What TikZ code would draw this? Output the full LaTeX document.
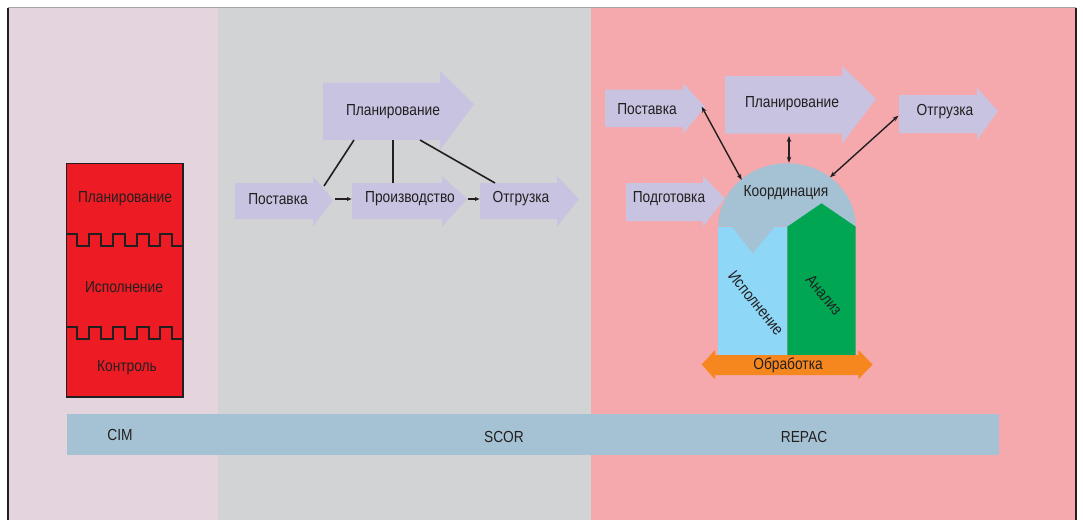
\documentclass[tikz,border=0pt]{standalone}
\usepackage{fontspec}
\setmainfont{Liberation Sans}[FakeStretch=0.86]
\usetikzlibrary{arrows.meta}
\definecolor{cimbg}{HTML}{E3D4DD}
\definecolor{scorbg}{HTML}{D2D3D5}
\definecolor{repacbg}{HTML}{F5A9AD}
\definecolor{barblue}{HTML}{A4C2D3}
\definecolor{lav}{HTML}{C8C3E1}
\definecolor{redbox}{HTML}{ED1C24}
\definecolor{lblue}{HTML}{8ED7F7}
\definecolor{grn}{HTML}{00A651}
\definecolor{orng}{HTML}{F6871F}
\definecolor{ink}{HTML}{231F20}
\tikzset{
  lbl/.style={font=\fontsize{16}{18}\selectfont, text=ink, inner sep=0pt},
  arrowshape/.style={fill=lav},
  wire/.style={draw=ink, line width=1.6pt},
  flow/.style={draw=ink, line width=1.6pt, -{Latex[length=5pt,width=4.5pt]}},
  link/.style={draw=ink, line width=1.4pt, {Stealth[length=6pt,width=4.5pt]}-{Stealth[length=6pt,width=4.5pt]}},
  wave/.style={draw=ink, line width=1.5pt},
}
\begin{document}
\begin{tikzpicture}[x=1pt,y=-1pt]
\useasboundingbox (0,0) rectangle (1083,520);
% backgrounds
\fill[white] (0,0) rectangle (1083,520);
\fill[cimbg] (8,7.5) rectangle (218,520);
\fill[scorbg] (218,7.5) rectangle (591,520);
\fill[repacbg] (591,7.5) rectangle (1076,520);
\draw[gray!70, line width=1pt] (8,7.5) -- (1076,7.5);
\draw[ink, line width=1.5pt] (8,7.5) -- (8,520);
\draw[ink, line width=1.5pt] (1076,7.5) -- (1076,520);
% bottom bar
\fill[barblue] (67,414) rectangle (999,455);
\node[lbl] (cim) at (120,435) {CIM};
\node[lbl] (scor) at (504,437) {SCOR};
\node[lbl] (repac) at (804,437) {REPAC};
% CIM red box
\draw[fill=redbox, draw=ink, line width=1.6pt] (66.5,163.5) rectangle (183,397);
\draw[wave] (66.5,234) -- (77,234) -- (77,246) -- (89,246) -- (89,234) -- (101,234) -- (101,246) -- (113,246) -- (113,234) -- (125,234) -- (125,246) -- (137,246) -- (137,234) -- (149,234) -- (149,246) -- (160,246) -- (160,234) -- (172,234) -- (172,246) -- (183,246);
\draw[wave] (66.5,327) -- (77,327) -- (77,339) -- (89,339) -- (89,327) -- (101,327) -- (101,339) -- (113,339) -- (113,327) -- (125,327) -- (125,339) -- (137,339) -- (137,327) -- (149,327) -- (149,339) -- (160,339) -- (160,327) -- (172,327) -- (172,339) -- (183,339);
\node[lbl] (cimplan) at (125,199) {Планирование};
\node[lbl] (cimexec) at (124,287) {Исполнение};
\node[lbl] (cimctrl) at (127,368) {Контроль};
% SCOR arrows
\fill[arrowshape] (323,82.5) -- (440,82.5) -- (440,71) -- (474,104) -- (440,150) -- (440,140) -- (323,140) -- cycle;
\node[lbl] (splan) at (393,112) {Планирование};
\fill[arrowshape] (235,183) -- (313,183) -- (313,176) -- (333,200) -- (313,226.5) -- (313,219) -- (235,219) -- cycle;
\node[lbl] (ssup) at (278,199) {Поставка};
\fill[arrowshape] (352,183) -- (442,183) -- (442,176) -- (467,199) -- (442,226.5) -- (442,219) -- (352,219) -- cycle;
\node[lbl] (sprod) at (410,199) {Производство};
\fill[arrowshape] (480,183) -- (557,183) -- (557,176) -- (579,199) -- (557,226.5) -- (557,219) -- (480,219) -- cycle;
\node[lbl] (sship) at (521,199) {Отгрузка};
\coordinate (splanA) at (354,140);
\coordinate (splanB) at (393,140);
\coordinate (splanC) at (420,140);
\coordinate (ssupT) at (324,186);
\coordinate (sprodT) at (393,183);
\coordinate (sshipT) at (495,183);
\coordinate (ssupR) at (335,199);
\coordinate (sprodL) at (352,199);
\coordinate (sprodR) at (468,199);
\coordinate (sshipL) at (480,199);
\draw[wire] (splanA) -- (ssupT);
\draw[wire] (splanB) -- (sprodT);
\draw[wire] (splanC) -- (sshipT);
\draw[flow] (ssupR) -- (sprodL);
\draw[flow] (sprodR) -- (sshipL);
% REPAC arrows
\fill[arrowshape] (605,89.5) -- (683,89.5) -- (683,83) -- (705,107) -- (683,133.5) -- (683,127) -- (605,127) -- cycle;
\node[lbl] (rsup) at (647,109) {Поставка};
\fill[arrowshape] (725,76) -- (842,76) -- (842,66) -- (876,99) -- (842,143.5) -- (842,133.5) -- (725,133.5) -- cycle;
\node[lbl] (rplan) at (792,103.5) {Планирование};
\fill[arrowshape] (899,95) -- (977,95) -- (977,88) -- (998,111) -- (977,140) -- (977,133) -- (899,133) -- cycle;
\node[lbl] (rship) at (945,112) {Отгрузка};
\fill[arrowshape] (626,183) -- (703,183) -- (703,176) -- (725,198.5) -- (703,226.5) -- (703,221) -- (626,221) -- cycle;
\node[lbl] (rprep) at (669,199) {Подготовка};
% dome and columns
\fill[barblue] (718.3,226.7) arc[start angle=180, end angle=360, x radius=68.7, y radius=63.4] -- cycle;
\fill[lblue] (718.3,226.7) rectangle (787.3,355);
\fill[barblue] (731.7,226.2) -- (752.7,253.3) -- (775,226.2) -- cycle;
\fill[grn] (787.3,355) -- (787.3,226.7) -- (821.5,203.3) -- (855.7,226.7) -- (855.7,355) -- cycle;
\node[lbl] (rcoord) at (786,193) {Координация};
\node[lbl, rotate=-51] (rexec) at (756,303) {Исполнение};
\node[lbl, rotate=-50] (ranal) at (824,295) {Анализ};
\fill[orng] (701.7,364.5) -- (715,350) -- (715,355) -- (858.3,355) -- (858.3,350) -- (872.7,364.5) -- (858.3,379.3) -- (858.3,375) -- (715,375) -- (715,379.3) -- cycle;
\node[lbl] (rproc) at (788,365) {Обработка};
% REPAC links
\coordinate (rsupT) at (701.7,106.7);
\coordinate (rplanB) at (789,136);
\coordinate (rshipL) at (898.3,115.7);
\coordinate (domeL) at (741.7,180);
\coordinate (domeT) at (789,162.7);
\coordinate (domeR) at (830,177.3);
\draw[link] (rsupT) -- (domeL);
\draw[link] (rplanB) -- (domeT);
\draw[link] (rshipL) -- (domeR);
\end{tikzpicture}
\end{document}
